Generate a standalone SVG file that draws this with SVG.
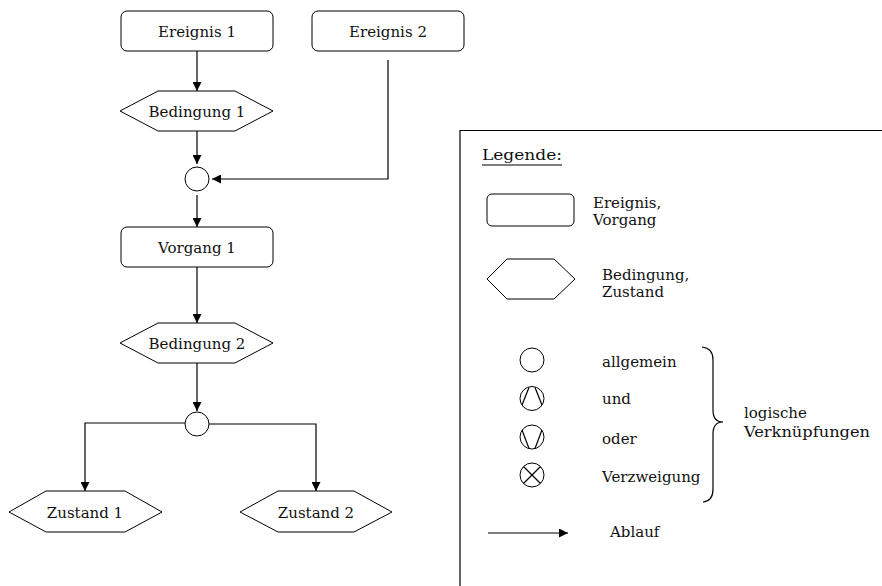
<svg xmlns="http://www.w3.org/2000/svg" width="882" height="586" viewBox="0 0 882 586">
  <style>
    .box { fill: #fff; stroke: #000; stroke-width: 1; }
    .ln { fill: none; stroke: #000; stroke-width: 1.2; }
    .arr { fill: none; stroke: #000; stroke-width: 1.2; marker-end: url(#ah); }
    text { font-family: "DejaVu Serif", "Liberation Serif", serif; font-size: 15px; fill: #111; }
    .c { text-anchor: middle; }
  </style>
  <defs>
    <marker id="ah" viewBox="0 0 10 10" refX="10" refY="5" markerWidth="9" markerHeight="9" markerUnits="userSpaceOnUse" orient="auto">
      <path d="M0,0 L10,5 L0,10 Z" fill="#000"/>
    </marker>
  </defs>

  <rect width="882" height="586" fill="#fff"/>

  <!-- connectors -->
  <g id="connectors">
    <path class="arr" d="M197,51 V91"/>
    <path class="arr" d="M197,131 V164"/>
    <path class="arr" d="M388,60 V179 H212"/>
    <path class="arr" d="M197,195 V227"/>
    <path class="arr" d="M197,267 V323"/>
    <path class="arr" d="M197,363 V411"/>
    <path class="arr" d="M185,423 H85 V491"/>
    <path class="arr" d="M209,424 H316 V491"/>
  </g>

  <!-- nodes -->
  <g id="ereignis1">
    <rect class="box" x="121" y="11" width="152" height="40" rx="6"/>
    <text class="c" x="197" y="37">Ereignis 1</text>
  </g>
  <g id="ereignis2">
    <rect class="box" x="312" y="11" width="152" height="40" rx="6"/>
    <text class="c" x="388" y="37">Ereignis 2</text>
  </g>
  <g id="bedingung1">
    <polygon class="box" points="120,111 158,91 235,91 273,111 235,131 158,131"/>
    <text class="c" x="197" y="117">Bedingung 1</text>
  </g>
  <g id="verknuepfung1">
    <circle class="box" cx="197" cy="179" r="12"/>
  </g>
  <g id="vorgang1">
    <rect class="box" x="121" y="227" width="152" height="40" rx="6"/>
    <text class="c" x="197" y="253">Vorgang 1</text>
  </g>
  <g id="bedingung2">
    <polygon class="box" points="120,343 158,323 235,323 273,343 235,363 158,363"/>
    <text class="c" x="197" y="349">Bedingung 2</text>
  </g>
  <g id="verknuepfung2">
    <circle class="box" cx="197" cy="424" r="12"/>
  </g>
  <g id="zustand1">
    <polygon class="box" points="9,512 46,491 125,491 162,512 125,532 46,532"/>
    <text class="c" x="85" y="518">Zustand 1</text>
  </g>
  <g id="zustand2">
    <polygon class="box" points="240,512 278,491 354,491 392,512 354,532 278,532"/>
    <text class="c" x="316" y="518">Zustand 2</text>
  </g>

  <!-- legend -->
  <g id="legende">
    <path class="ln" d="M460,586 V130.5 H882"/>
    <text x="482" y="160" textLength="80" lengthAdjust="spacingAndGlyphs">Legende:</text>
    <line x1="482" y1="165" x2="562" y2="165" stroke="#000" stroke-width="1.2"/>

    <rect class="box" x="487" y="194" width="87" height="32" rx="5"/>
    <text x="593" y="208">Ereignis,</text>
    <text x="593" y="225">Vorgang</text>

    <polygon class="box" points="487,279 507,259 554,259 575,279 554,299 507,299"/>
    <text x="602" y="280">Bedingung,</text>
    <text x="602" y="297">Zustand</text>

    <circle class="box" cx="532" cy="360" r="12"/>
    <text x="602" y="367">allgemein</text>

    <circle class="box" cx="532" cy="398.5" r="12"/>
    <path class="ln" d="M522,405 L529,387.5 M535,387.5 L542,405" stroke-width="1"/>
    <text x="602" y="404">und</text>

    <circle class="box" cx="532" cy="437" r="12"/>
    <path class="ln" d="M522,430 L529,448.5 M535,448.5 L542,430" stroke-width="1"/>
    <text x="602" y="444">oder</text>

    <circle class="box" cx="532" cy="475" r="12"/>
    <path class="ln" d="M523.5,466.5 L540.5,483.5 M540.5,466.5 L523.5,483.5" stroke-width="1"/>
    <text x="602" y="482">Verzweigung</text>

    <path class="ln" stroke-width="1" d="M702,347 Q713,348 713,360 V410 Q713,422 723,422 Q713,422 713,434 V489 Q713,501 703,502"/>
    <text x="744" y="418">logische</text>
    <text x="744" y="437" textLength="126" lengthAdjust="spacingAndGlyphs">Verknüpfungen</text>

    <path class="arr" d="M488,533 H568"/>
    <text x="610" y="537">Ablauf</text>
  </g>
</svg>
